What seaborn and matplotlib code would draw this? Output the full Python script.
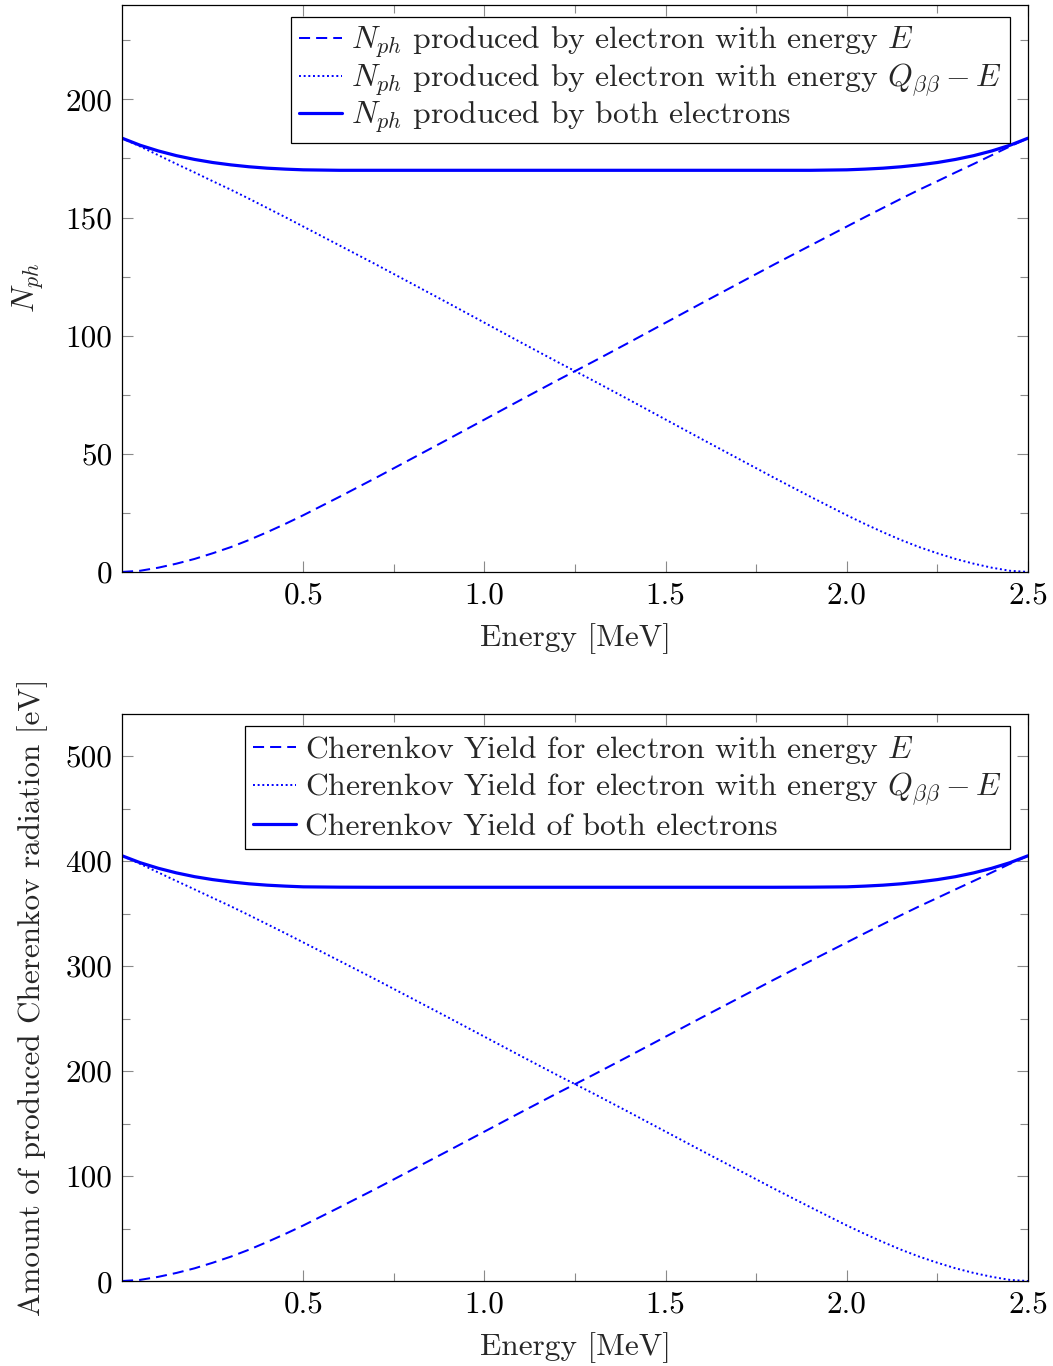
import matplotlib
matplotlib.use("Agg")
import matplotlib.pyplot as plt
import seaborn as sns
import pandas as pd
from matplotlib.ticker import FixedLocator, FormatStrFormatter

# ---------------- data ----------------
energy = [0.0, 0.05, 0.1, 0.15, 0.2, 0.25, 0.3, 0.35, 0.4, 0.45, 0.5,
          0.6, 0.7, 0.8, 0.9, 1.0, 1.1, 1.2, 1.3, 1.4, 1.5, 1.6, 1.7, 1.8, 1.9,
          2.0, 2.05, 2.1, 2.15, 2.2, 2.25, 2.3, 2.35, 2.4, 2.45, 2.5]

# top panel: number of photons
nph_e = [0.0, 0.5, 1.8, 3.5, 5.5, 7.9, 10.5, 13.5, 16.8, 20.3, 24.0,
         31.8, 39.8, 48.0, 56.2, 64.5, 72.8, 81.0, 89.0, 97.2, 105.5, 113.8, 122.0, 130.2, 138.2,
         146.2, 150.2, 154.1, 158.0, 161.8, 165.4, 169.1, 172.7, 176.4, 180.1, 183.6]
nph_q = [183.6, 180.1, 176.4, 172.7, 169.1, 165.4, 161.8, 158.0, 154.1, 150.2, 146.2,
         138.2, 130.2, 122.0, 113.8, 105.5, 97.2, 89.0, 81.0, 72.8, 64.5, 56.2, 48.0, 39.8, 31.8,
         24.0, 20.3, 16.8, 13.5, 10.5, 7.9, 5.5, 3.5, 1.8, 0.5, 0.0]
nph_both = [183.6, 180.6, 178.2, 176.2, 174.6, 173.3, 172.3, 171.5, 170.9, 170.5, 170.2,
            170.0, 170.0, 170.0, 170.0, 170.0, 170.0, 170.0, 170.0, 170.0, 170.0, 170.0, 170.0, 170.0, 170.0,
            170.2, 170.5, 170.9, 171.5, 172.3, 173.3, 174.6, 176.2, 178.2, 180.6, 183.6]

# bottom panel: Cherenkov yield [eV]
yield_e = [0.0, 1.1, 4.0, 7.7, 12.1, 17.4, 23.2, 29.8, 37.1, 44.8, 52.9,
           70.2, 87.8, 105.9, 124.0, 142.3, 160.6, 178.7, 196.3, 214.4, 232.7, 251.0, 269.1, 287.2, 304.9,
           322.5, 331.3, 339.9, 348.5, 356.9, 364.9, 373.0, 381.0, 389.1, 397.3, 405.0]
yield_q = [405.0, 397.3, 389.1, 381.0, 373.0, 364.9, 356.9, 348.5, 339.9, 331.3, 322.5,
           304.9, 287.2, 269.1, 251.0, 232.7, 214.4, 196.3, 178.7, 160.6, 142.3, 124.0, 105.9, 87.8, 70.2,
           52.9, 44.8, 37.1, 29.8, 23.2, 17.4, 12.1, 7.7, 4.0, 1.1, 0.0]
yield_both = [405.0, 398.4, 393.1, 388.7, 385.1, 382.3, 380.1, 378.3, 377.0, 376.1, 375.4,
              375.1, 375.0, 375.0, 375.0, 375.0, 375.0, 375.0, 375.0, 375.0, 375.0, 375.0, 375.0, 375.0, 375.1,
              375.4, 376.1, 377.0, 378.3, 380.1, 382.3, 385.1, 388.7, 393.1, 398.4, 405.0]

top_labels = [r"$N_{ph}$ produced by electron with energy $E$",
              r"$N_{ph}$ produced by electron with energy $Q_{\beta\beta} - E$",
              r"$N_{ph}$ produced by both electrons"]
bottom_labels = [r"Cherenkov Yield for electron with energy $E$",
                 r"Cherenkov Yield for electron with energy $Q_{\beta\beta} - E$",
                 r"Cherenkov Yield of both electrons"]

x_major = [0.5, 1.0, 1.5, 2.0, 2.5]
x_minor = [0.75, 1.25, 1.75, 2.25]
top_y_major = [0, 50, 100, 150, 200]
top_y_minor = [25, 75, 125, 175, 225]
bot_y_major = [0, 100, 200, 300, 400, 500]
bot_y_minor = [50, 150, 250, 350, 450]

# ---------------- style ----------------
sns.set_theme(style="ticks")
plt.rcParams.update({
    "font.family": ["cmr10", "DejaVu Serif"],
    "mathtext.fontset": "cm",
    "axes.formatter.use_mathtext": True,
    "font.size": 22.5,
    "axes.labelsize": 22.5,
    "xtick.labelsize": 22.5,
    "ytick.labelsize": 22.5,
    "legend.fontsize": 22.8,
    "axes.edgecolor": "black",
    "axes.linewidth": 0.9,
})

fig = plt.figure(figsize=(10.53, 13.66), dpi=100)
ax1 = fig.add_axes([0.1159, 0.5813, 0.8604, 0.4151])
ax2 = fig.add_axes([0.1159, 0.0622, 0.8604, 0.4151])

dash_style = (0, (5.5, 3.0))
dot_style = (0, (1.0, 1.4))


def draw(ax, e_vals, q_vals, both_vals, labels, ylim, ymaj, ymin, ylabel,
         ylabel_x, labelspacing):
    df = pd.DataFrame({"E": energy, "a": e_vals, "b": q_vals, "c": both_vals})
    sns.lineplot(data=df, x="E", y="a", ax=ax, color="blue", lw=1.45,
                 linestyle=dash_style, label=labels[0])
    sns.lineplot(data=df, x="E", y="b", ax=ax, color="blue", lw=1.4,
                 linestyle=dot_style, label=labels[1])
    sns.lineplot(data=df, x="E", y="c", ax=ax, color="blue", lw=2.3,
                 label=labels[2])
    ax.set_xlim(0.0, 2.5)
    ax.set_ylim(*ylim)
    ax.xaxis.set_major_locator(FixedLocator(x_major))
    ax.xaxis.set_minor_locator(FixedLocator(x_minor))
    ax.yaxis.set_major_locator(FixedLocator(ymaj))
    ax.yaxis.set_minor_locator(FixedLocator(ymin))
    ax.xaxis.set_major_formatter(FormatStrFormatter("%.1f"))
    ax.yaxis.set_major_formatter(FormatStrFormatter("%d"))
    ax.tick_params(which="both", direction="in", top=True, right=True,
                   color="#8a8a8a", width=0.8, labelcolor="black")
    ax.tick_params(which="major", length=7.9, pad=7)
    ax.tick_params(which="minor", length=5.8)
    ax.set_xlabel("Energy [MeV]")
    ax.set_ylabel(ylabel)
    ax.yaxis.set_label_coords(ylabel_x, 0.5)
    ax.xaxis.set_label_coords(0.5, -0.09)
    for s in ax.spines.values():
        s.set_color("black")
        s.set_linewidth(0.9)
    leg = ax.legend(loc="upper right", bbox_to_anchor=(0.98, 0.978), borderaxespad=0,
                    frameon=True, fancybox=False, edgecolor="black", framealpha=1,
                    handlelength=1.35, handletextpad=0.3, labelspacing=labelspacing,
                    borderpad=0.25)
    leg.get_frame().set_linewidth(0.9)


draw(ax1, nph_e, nph_q, nph_both, top_labels, (0, 240), top_y_major, top_y_minor,
     r"$N_{ph}$", -0.084, 0.04)
draw(ax2, yield_e, yield_q, yield_both, bottom_labels, (0, 540), bot_y_major, bot_y_minor,
     "Amount of produced Cherenkov radiation [eV]", -0.082, 0.15)

fig.savefig("out.png", dpi=100)
